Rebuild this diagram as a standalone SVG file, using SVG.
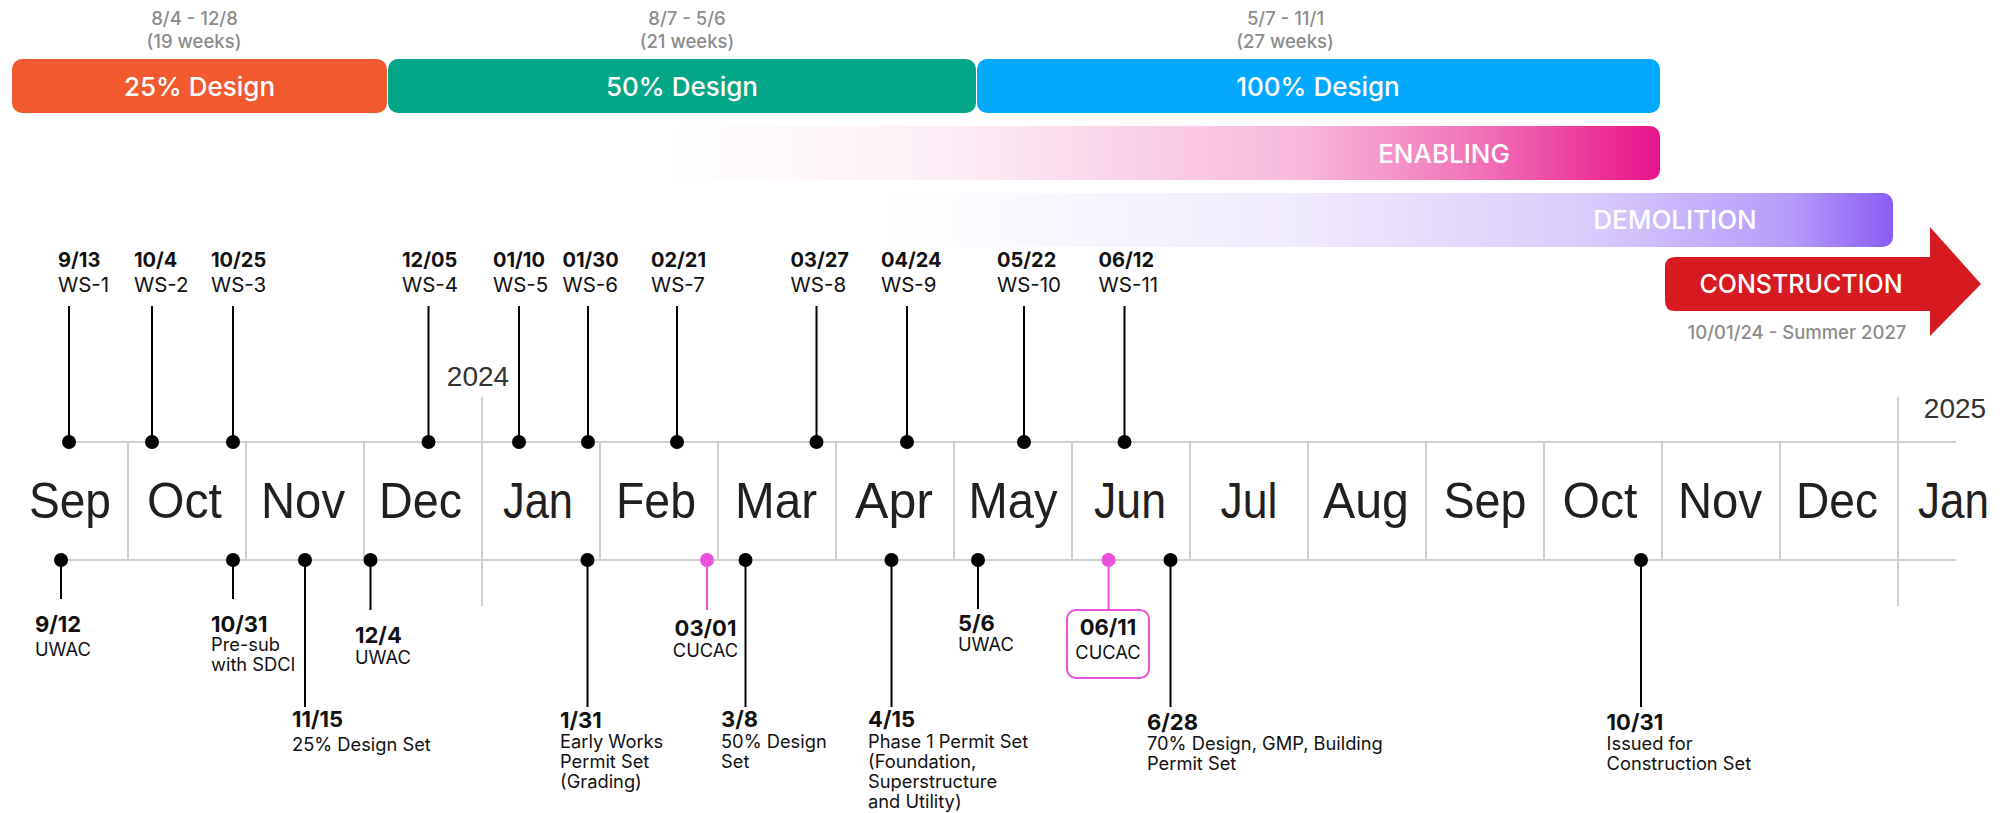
<svg xmlns="http://www.w3.org/2000/svg" width="2011" height="813" viewBox="0 0 2011 813">
<defs>
<linearGradient id="gEn" x1="0" y1="0" x2="1" y2="0">
<stop offset="0" stop-color="#E8128A" stop-opacity="0"/>
<stop offset="0.28" stop-color="#E8128A" stop-opacity="0.07"/>
<stop offset="0.64" stop-color="#E8128A" stop-opacity="0.3"/>
<stop offset="0.82" stop-color="#E8128A" stop-opacity="0.6"/>
<stop offset="1" stop-color="#E8128A" stop-opacity="1"/>
</linearGradient>
<linearGradient id="gDe" x1="0" y1="0" x2="1" y2="0">
<stop offset="0" stop-color="#8A5CF6" stop-opacity="0"/>
<stop offset="0.4" stop-color="#8A5CF6" stop-opacity="0.12"/>
<stop offset="0.7" stop-color="#8A5CF6" stop-opacity="0.32"/>
<stop offset="0.9" stop-color="#8A5CF6" stop-opacity="0.62"/>
<stop offset="1" stop-color="#8A5CF6" stop-opacity="1"/>
</linearGradient>
</defs>
<style>
.bar{font-family:Inter,"Liberation Sans",sans-serif;font-size:26px;font-weight:500;fill:#fff;text-anchor:middle}
.gray{font-family:Inter,"Liberation Sans",sans-serif;font-size:18.5px;font-weight:500;fill:#8c8c8c;text-anchor:middle}
.mon{font-family:"Liberation Sans",Arial,sans-serif;font-size:50px;fill:#231f20}
.yr{font-family:"Liberation Sans",Arial,sans-serif;font-size:28px;fill:#333;text-anchor:middle}
.td{font-family:Inter,"Liberation Sans",sans-serif;font-size:20px;font-weight:700;fill:#111}
.tw{font-family:Inter,"Liberation Sans",sans-serif;font-size:20.5px;fill:#111}
.bd{font-family:Inter,"Liberation Sans",sans-serif;font-size:22px;font-weight:700;fill:#111}
.bt{font-family:Inter,"Liberation Sans",sans-serif;font-size:18.3px;fill:#111}
.grid{stroke:#cfcfcf;stroke-width:2;fill:none}
.stem{stroke:#000;stroke-width:2;fill:none}
.pstem{stroke:#EC4FD9;stroke-width:2;fill:none}
.dot{fill:#000}
.pdot{fill:#EC4FD9}
.c{text-anchor:middle}
</style>

<!-- phase bars -->
<g id="bar-25">
<text class="gray" x="194.5" y="25">8/4 - 12/8</text>
<text class="gray" x="194" y="48">(19 weeks)</text>
<rect x="12" y="59" width="375" height="54" rx="10" fill="#F15A2E"/>
<text class="bar" x="199.5" y="95.5">25% Design</text>
</g>
<g id="bar-50">
<text class="gray" x="687" y="25">8/7 - 5/6</text>
<text class="gray" x="687" y="48">(21 weeks)</text>
<rect x="388" y="59" width="588" height="54" rx="10" fill="#04A688"/>
<text class="bar" x="682" y="95.5">50% Design</text>
</g>
<g id="bar-100">
<text class="gray" x="1285.5" y="25">5/7 - 11/1</text>
<text class="gray" x="1285" y="48">(27 weeks)</text>
<rect x="977" y="59" width="683" height="54" rx="10" fill="#03A9FC"/>
<text class="bar" x="1318" y="95.5">100% Design</text>
</g>
<g id="bar-enabling">
<rect x="663" y="126" width="997" height="54" rx="10" fill="url(#gEn)"/>
<text class="bar" x="1444" y="162.5">ENABLING</text>
</g>
<g id="bar-demolition">
<rect x="880" y="193" width="1013" height="54" rx="10" fill="url(#gDe)"/>
<text class="bar" x="1675" y="229">DEMOLITION</text>
</g>
<g id="bar-construction">
<path d="M1675,257 H1930 V227 L1981,284 L1930,336 V311 H1675 Q1665,311 1665,301 V267 Q1665,257 1675,257 Z" fill="#D71920"/>
<text class="bar" x="1801" y="293" style="font-size:25px">CONSTRUCTION</text>
<text class="gray" x="1797" y="339">10/01/24 - Summer 2027</text>
</g>

<!-- timeline axis -->
<g id="axis">
<line class="grid" x1="69" y1="442" x2="1956" y2="442"/>
<line class="grid" x1="61" y1="560" x2="1956" y2="560"/>
<path class="grid" d="M128,442V560 M246,442V560 M364,442V560 M600,442V560 M718,442V560 M836,442V560 M954,442V560 M1072,442V560 M1190,442V560 M1308,442V560 M1426,442V560 M1544,442V560 M1662,442V560 M1780,442V560"/>
<path class="grid" d="M482,397V606 M1898,397V606"/>
<text class="yr" x="478" y="386">2024</text>
<text class="yr" x="1955" y="418">2025</text>
<text class="mon" x="29" y="518" textLength="82" lengthAdjust="spacingAndGlyphs">Sep</text>
<text class="mon" x="147" y="518" textLength="75" lengthAdjust="spacingAndGlyphs">Oct</text>
<text class="mon" x="261" y="518" textLength="84" lengthAdjust="spacingAndGlyphs">Nov</text>
<text class="mon" x="379" y="518" textLength="83" lengthAdjust="spacingAndGlyphs">Dec</text>
<text class="mon" x="503" y="518" textLength="70" lengthAdjust="spacingAndGlyphs">Jan</text>
<text class="mon" x="616" y="518" textLength="80" lengthAdjust="spacingAndGlyphs">Feb</text>
<text class="mon" x="735" y="518" textLength="82" lengthAdjust="spacingAndGlyphs">Mar</text>
<text class="mon" x="855" y="518" textLength="78" lengthAdjust="spacingAndGlyphs">Apr</text>
<text class="mon" x="968.5" y="518" textLength="89" lengthAdjust="spacingAndGlyphs">May</text>
<text class="mon" x="1094" y="518" textLength="72" lengthAdjust="spacingAndGlyphs">Jun</text>
<text class="mon" x="1220.5" y="518" textLength="57" lengthAdjust="spacingAndGlyphs">Jul</text>
<text class="mon" x="1323" y="518" textLength="86" lengthAdjust="spacingAndGlyphs">Aug</text>
<text class="mon" x="1443.5" y="518" textLength="83" lengthAdjust="spacingAndGlyphs">Sep</text>
<text class="mon" x="1562.5" y="518" textLength="75" lengthAdjust="spacingAndGlyphs">Oct</text>
<text class="mon" x="1678" y="518" textLength="84" lengthAdjust="spacingAndGlyphs">Nov</text>
<text class="mon" x="1796" y="518" textLength="82" lengthAdjust="spacingAndGlyphs">Dec</text>
<text class="mon" x="1918" y="518" textLength="71" lengthAdjust="spacingAndGlyphs">Jan</text>
</g>

<!-- connectors (stems) -->
<g id="connectors">
<path class="stem" d="M69,306V442 M152,306V442 M233,306V442 M428.5,306V442 M519,306V442 M588,306V442 M677,306V442 M816.5,306V442 M907,306V442 M1024,306V442 M1124.5,306V442"/>
<path class="stem" d="M61,560V599 M233,560V599 M305,560V707 M370.5,560V610 M587.5,560V707 M745.5,560V707 M891.5,560V707 M978,560V609 M1170.5,560V707 M1641,560V707"/>
<path class="pstem" d="M707,560V610 M1108.5,560V610"/>
</g>

<!-- workshops -->
<g id="ws1"><circle class="dot" cx="69" cy="442" r="7"/><text class="td" x="58" y="267">9/13</text><text class="tw" x="58" y="292">WS-1</text></g>
<g id="ws2"><circle class="dot" cx="152" cy="442" r="7"/><text class="td" x="134" y="267">10/4</text><text class="tw" x="134" y="292">WS-2</text></g>
<g id="ws3"><circle class="dot" cx="233" cy="442" r="7"/><text class="td" x="211" y="267">10/25</text><text class="tw" x="211" y="292">WS-3</text></g>
<g id="ws4"><circle class="dot" cx="428.5" cy="442" r="7"/><text class="td" x="402" y="267">12/05</text><text class="tw" x="402" y="292">WS-4</text></g>
<g id="ws5"><circle class="dot" cx="519" cy="442" r="7"/><text class="td" x="493" y="267">01/10</text><text class="tw" x="493" y="292">WS-5</text></g>
<g id="ws6"><circle class="dot" cx="588" cy="442" r="7"/><text class="td" x="562.5" y="267">01/30</text><text class="tw" x="562.5" y="292">WS-6</text></g>
<g id="ws7"><circle class="dot" cx="677" cy="442" r="7"/><text class="td" x="651" y="267">02/21</text><text class="tw" x="651" y="292">WS-7</text></g>
<g id="ws8"><circle class="dot" cx="816.5" cy="442" r="7"/><text class="td" x="790.6" y="267">03/27</text><text class="tw" x="790.6" y="292">WS-8</text></g>
<g id="ws9"><circle class="dot" cx="907" cy="442" r="7"/><text class="td" x="881" y="267">04/24</text><text class="tw" x="881" y="292">WS-9</text></g>
<g id="ws10"><circle class="dot" cx="1024" cy="442" r="7"/><text class="td" x="997" y="267">05/22</text><text class="tw" x="997" y="292">WS-10</text></g>
<g id="ws11"><circle class="dot" cx="1124.5" cy="442" r="7"/><text class="td" x="1098.6" y="267">06/12</text><text class="tw" x="1098.6" y="292">WS-11</text></g>

<!-- milestones -->
<g id="m-0912"><circle class="dot" cx="61" cy="560" r="7"/><text class="bd" x="35" y="632">9/12</text><text class="bt" x="35" y="656">UWAC</text></g>
<g id="m-1031a"><circle class="dot" cx="233" cy="560" r="7"/><text class="bd" x="211" y="632">10/31</text><text class="bt" x="211" y="651">Pre-sub</text><text class="bt" x="211" y="671">with SDCI</text></g>
<g id="m-1115"><circle class="dot" cx="305" cy="560" r="7"/><text class="bd" x="292" y="727">11/15</text><text class="bt" x="292" y="751">25% Design Set</text></g>
<g id="m-1204"><circle class="dot" cx="370.5" cy="560" r="7"/><text class="bd" x="355" y="643">12/4</text><text class="bt" x="355" y="664">UWAC</text></g>
<g id="m-0131"><circle class="dot" cx="587.5" cy="560" r="7"/><text class="bd" x="560" y="728">1/31</text><text class="bt" x="560" y="748">Early Works</text><text class="bt" x="560" y="768">Permit Set</text><text class="bt" x="560" y="788">(Grading)</text></g>
<g id="m-0301"><circle class="pdot" cx="707" cy="560" r="7"/><text class="bd c" x="705.5" y="636">03/01</text><text class="bt c" x="705.5" y="657">CUCAC</text></g>
<g id="m-0308"><circle class="dot" cx="745.5" cy="560" r="7"/><text class="bd" x="721" y="727">3/8</text><text class="bt" x="721" y="748">50% Design</text><text class="bt" x="721" y="768">Set</text></g>
<g id="m-0415"><circle class="dot" cx="891.5" cy="560" r="7"/><text class="bd" x="868" y="727">4/15</text><text class="bt" x="868" y="748">Phase 1 Permit Set</text><text class="bt" x="868" y="768">(Foundation,</text><text class="bt" x="868" y="788">Superstructure</text><text class="bt" x="868" y="808">and Utility)</text></g>
<g id="m-0506"><circle class="dot" cx="978" cy="560" r="7"/><text class="bd" x="958" y="631">5/6</text><text class="bt" x="958" y="651">UWAC</text></g>
<g id="m-0611"><circle class="pdot" cx="1108.5" cy="560" r="7"/><rect x="1067" y="610" width="82" height="68" rx="9" fill="#fff" stroke="#EC4FD9" stroke-width="2"/><text class="bd c" x="1108" y="635">06/11</text><text class="bt c" x="1108" y="659">CUCAC</text></g>
<g id="m-0628"><circle class="dot" cx="1170.5" cy="560" r="7"/><text class="bd" x="1147" y="730">6/28</text><text class="bt" x="1147" y="750">70% Design, GMP, Building</text><text class="bt" x="1147" y="770">Permit Set</text></g>
<g id="m-1031b"><circle class="dot" cx="1641" cy="560" r="7"/><text class="bd" x="1606.6" y="730">10/31</text><text class="bt" x="1606.6" y="750">Issued for</text><text class="bt" x="1606.6" y="770">Construction Set</text></g>
</svg>
